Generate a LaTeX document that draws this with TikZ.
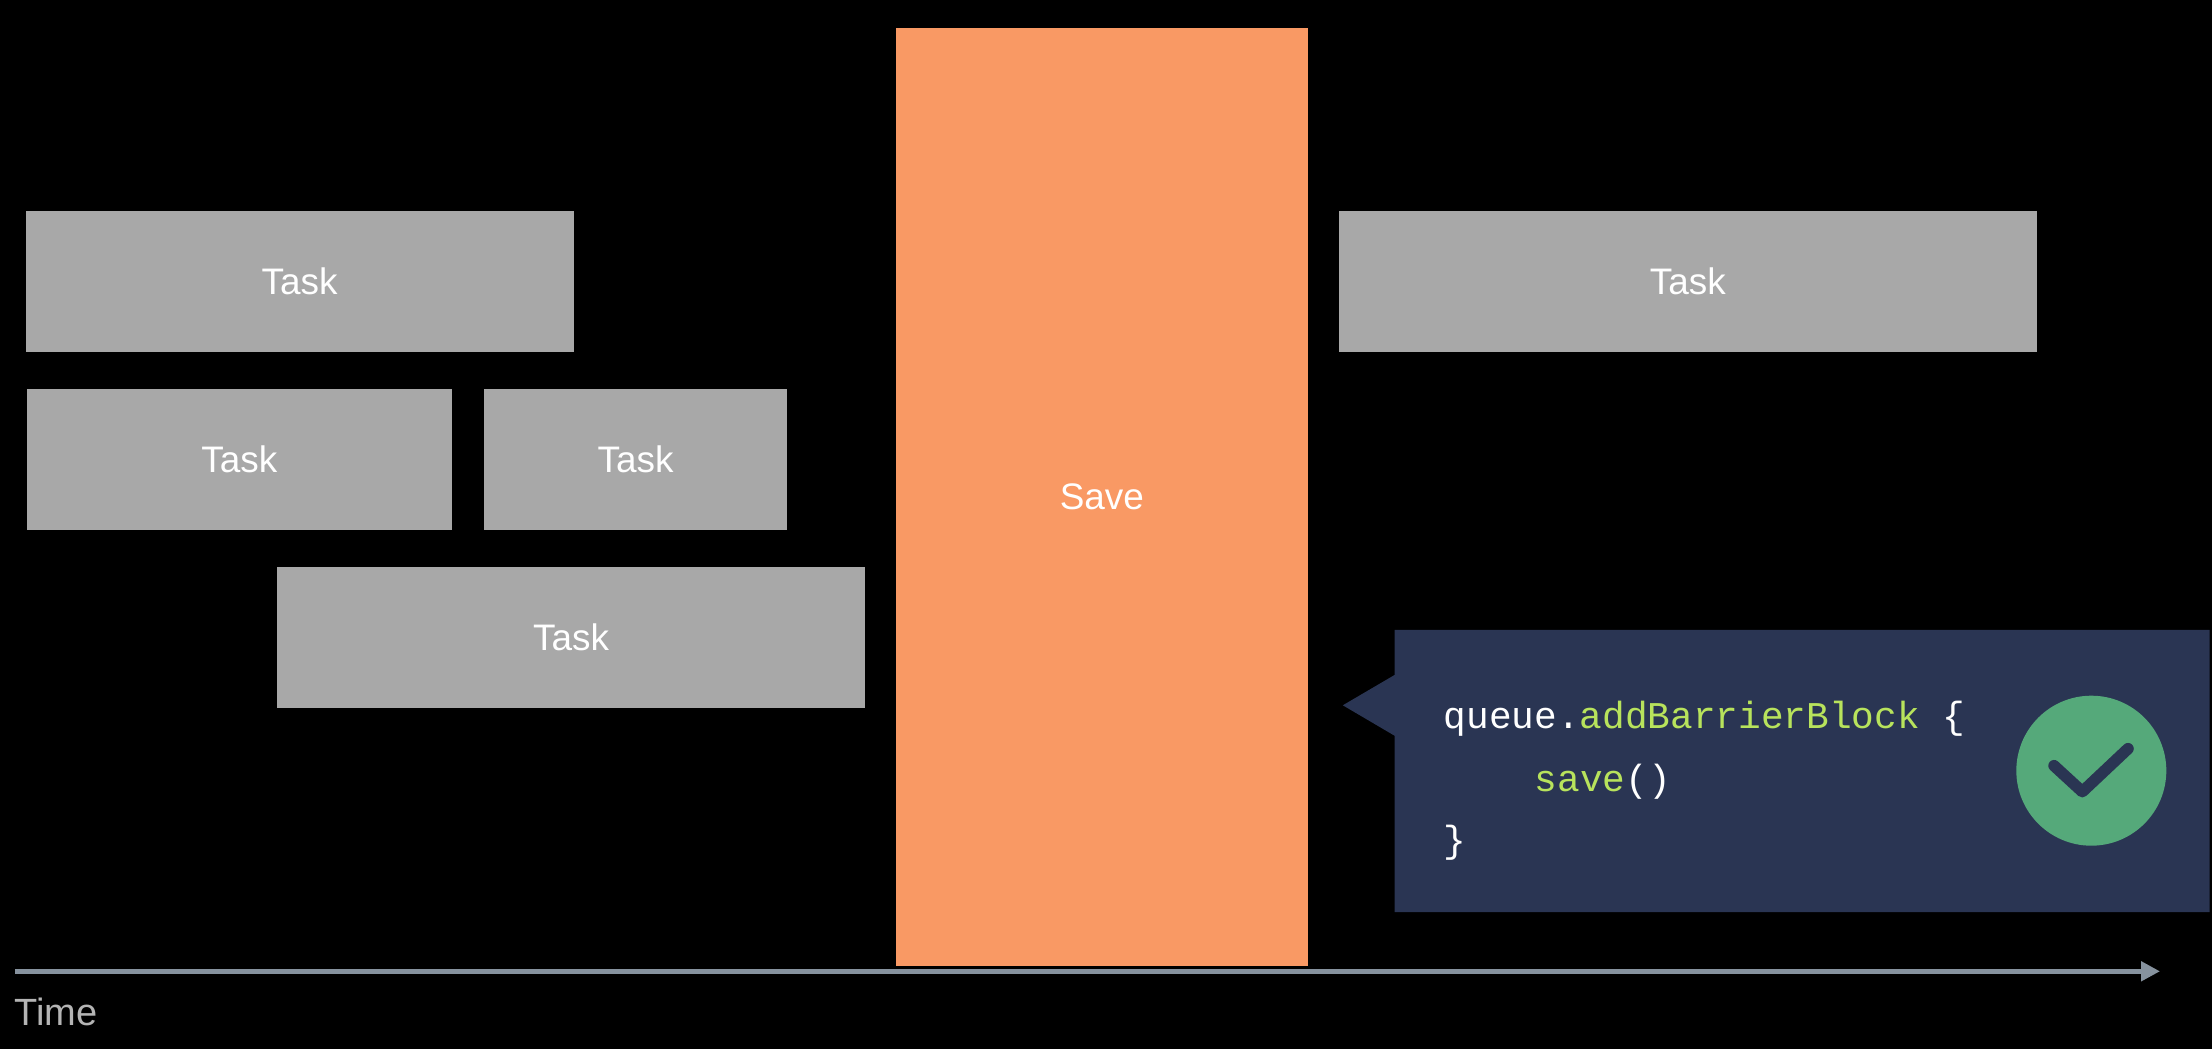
\documentclass[tikz,border=0pt]{standalone}
\usepackage{fontspec}
\setmainfont{Liberation Sans}
\setmonofont{Liberation Mono}
\usetikzlibrary{arrows.meta}
\definecolor{taskgray}{HTML}{A8A8A8}
\definecolor{saveorange}{HTML}{F99964}
\definecolor{calloutblue}{HTML}{2A3553}
\definecolor{checkgreen}{HTML}{55A97A}
\definecolor{codegreen}{HTML}{B8E35C}
\definecolor{axisgray}{HTML}{86929E}
\definecolor{timegray}{HTML}{B4B4B4}
\tikzset{
  taskbox/.style={fill=taskgray, text=white, inner sep=0pt, minimum height=1.41cm, font=\fontsize{10.5}{12}\selectfont},
  codeline/.style={anchor=base west, inner sep=0pt, text=white, font=\fontsize{10.75}{13}\ttfamily},
}
\begin{document}
\begin{tikzpicture}
    \useasboundingbox (0, 0) rectangle (22.12, 10.48);
    \fill[black] (-0.1, -0.1) rectangle (22.22, 10.58);

    % tasks before the barrier
    \node[taskbox, minimum width=5.48cm] (taskTop) at (2.996, 7.662) {Task};
    \node[taskbox, minimum width=4.246cm] (taskLeft) at (2.393, 5.884) {Task};
    \node[taskbox, minimum width=3.03cm] (taskRight) at (6.355, 5.884) {Task};
    \node[taskbox, minimum width=5.883cm] (taskLow) at (5.71, 4.105) {Task};

    % the barrier and what follows it
    \node[taskbox, fill=saveorange, minimum width=4.117cm, minimum height=9.38cm] (save) at (11.018, 5.51) {Save};
    \node[taskbox, minimum width=6.98cm] (taskAfter) at (16.879, 7.662) {Task};

    % callout
    \fill[calloutblue] (13.945, 4.18) -- (22.096, 4.18) -- (22.096, 1.36) -- (13.945, 1.36)
      -- (13.945, 3.123) -- (13.428, 3.427) -- (13.945, 3.73) -- cycle;
    \node[codeline] (codeOpen) at (14.43, 3.19) {queue.\textcolor{codegreen}{addBarrierBlock} \{};
    \node[codeline] (codeSave) at (15.34, 2.563) {\textcolor{codegreen}{save}()};
    \node[codeline] (codeClose) at (14.43, 1.955) {\}};

    % check mark
    \node[circle, fill=checkgreen, inner sep=0pt, minimum size=1.5cm] (check) at (20.913, 2.773) {};
    \draw[calloutblue, line width=.115cm, line cap=round, line join=round] (20.54, 2.823) -- (20.823, 2.563) -- (21.28, 2.993);

    % time axis
    \coordinate (timeStart) at (0.15, 0.767);
    \coordinate (timeEnd) at (21.60, 0.767);
    \draw[axisgray, line width=.05cm, -{Triangle[length=.19cm, width=.19cm]}] (timeStart) -- (timeEnd);
    \node[anchor=base west, inner sep=0pt, text=timegray, font=\fontsize{10.8}{12}\selectfont] (timeLabel) at (0.14, 0.222) {Time};
  \end{tikzpicture}
\end{document}
